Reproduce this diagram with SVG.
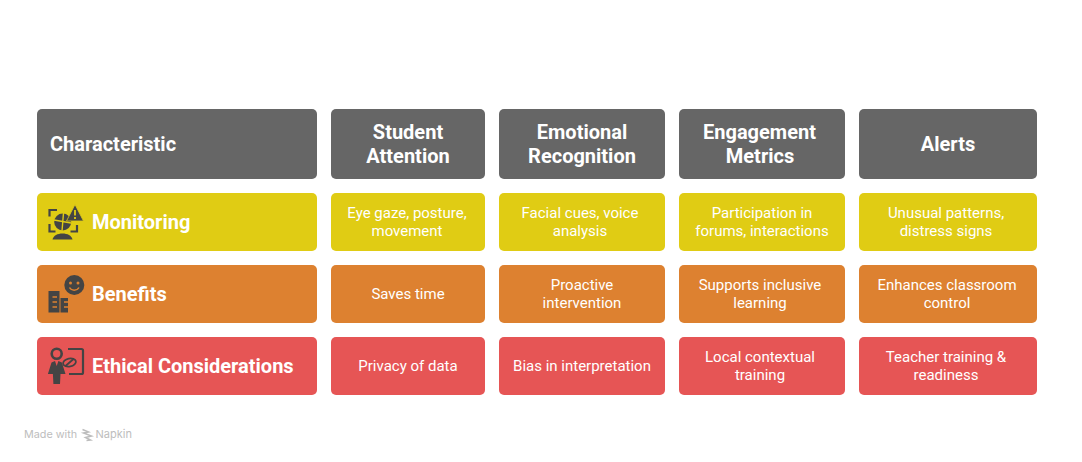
<svg xmlns="http://www.w3.org/2000/svg" width="1082" height="462" viewBox="0 0 1082 462">
<style>
text{font-family:Roboto,"Liberation Sans",sans-serif;fill:#fff;text-anchor:middle}
.h{font-size:20px;font-weight:700}
.l{text-anchor:start}
.c{font-size:15px;font-weight:400}
.g{fill:#666666}.y{fill:#e0cc14}.o{fill:#dd8130}.r{fill:#e65555}
.i{fill:#444444}.s{fill:none;stroke:#444444;stroke-width:2.200}
</style>
<rect width="1082" height="462" fill="#fff"/>
<g id="connectors"/>
<g id="head-characteristic"><rect class="g" x="37" y="109" width="280" height="70" rx="5"/><text class="h l" x="50" y="151">Characteristic</text></g>
<g id="head-attention"><rect class="g" x="331" y="109" width="154" height="70" rx="5"/><text class="h" x="408" y="139">Student</text><text class="h" x="408" y="163">Attention</text></g>
<g id="head-emotion"><rect class="g" x="499" y="109" width="166" height="70" rx="5"/><text class="h" x="582" y="139">Emotional</text><text class="h" x="582" y="163">Recognition</text></g>
<g id="head-engagement"><rect class="g" x="679" y="109" width="166" height="70" rx="5"/><text class="h" x="759.500" y="139">Engagement</text><text class="h" x="760" y="163">Metrics</text></g>
<g id="head-alerts"><rect class="g" x="859" y="109" width="178" height="70" rx="5"/><text class="h" x="948" y="151">Alerts</text></g>

<g id="row-monitoring"><rect class="y" x="37" y="193" width="280" height="58" rx="5"/>
<g id="icon-monitoring">
<path class="s" d="M57 210h-7.500v6.500M49.500 224v7.500h6M77 225v6.500h-6.500"/>
<circle class="i" cx="62.700" cy="222" r="8.500"/>
<path d="M63.500 213l-1.500 18M54 220l17 3" stroke="#e0cc14" stroke-width="1.400"/>
<path class="i" d="M75 204.500l8.500 16.500h-17z" stroke="#e0cc14" stroke-width="0.800"/>
<path d="M75 210v5.500M75 217v2" stroke="#e0cc14" stroke-width="1.800"/>
<path class="i" d="M52.500 239.500c1-4 5-6 10-6s9 2 10 6z"/>
</g>
<text class="h l" x="92" y="229">Monitoring</text></g>
<g id="row-monitoring-attention"><rect class="y" x="331" y="193" width="154" height="58" rx="5"/><text class="c" x="407" y="218">Eye gaze, posture,</text><text class="c" x="407" y="236">movement</text></g>
<g id="row-monitoring-emotion"><rect class="y" x="499" y="193" width="166" height="58" rx="5"/><text class="c" x="580" y="218">Facial cues, voice</text><text class="c" x="580" y="236">analysis</text></g>
<g id="row-monitoring-engagement"><rect class="y" x="679" y="193" width="166" height="58" rx="5"/><text class="c" x="762" y="218">Participation in</text><text class="c" x="762" y="236">forums, interactions</text></g>
<g id="row-monitoring-alerts"><rect class="y" x="859" y="193" width="178" height="58" rx="5"/><text class="c" x="946" y="218">Unusual patterns,</text><text class="c" x="946" y="236">distress signs</text></g>

<g id="row-benefits"><rect class="o" x="37" y="265" width="280" height="58" rx="5"/>
<g id="icon-benefits">
<circle class="i" cx="74.300" cy="285" r="10"/>
<circle cx="70.500" cy="283" r="1.500" fill="#dd8130"/><circle cx="78" cy="283" r="1.500" fill="#dd8130"/>
<path d="M69.500 287.500c2 3.500 7.500 3.500 9.500 0" fill="none" stroke="#dd8130" stroke-width="1.500"/>
<path class="i" d="M48.500 291h11v21.500h-11zM60.500 298h7.500v14.500h-7.500z"/>
<path d="M52.500 297h4.500M52.500 302h4.500M52.500 307h4.500M64 302h4M64 307h4" stroke="#dd8130" stroke-width="1.600"/>
</g>
<text class="h l" x="92" y="301">Benefits</text></g>
<g id="row-benefits-attention"><rect class="o" x="331" y="265" width="154" height="58" rx="5"/><text class="c" x="408" y="299">Saves time</text></g>
<g id="row-benefits-emotion"><rect class="o" x="499" y="265" width="166" height="58" rx="5"/><text class="c" x="582" y="290">Proactive</text><text class="c" x="582" y="308">intervention</text></g>
<g id="row-benefits-engagement"><rect class="o" x="679" y="265" width="166" height="58" rx="5"/><text class="c" x="760" y="290">Supports inclusive</text><text class="c" x="760" y="308">learning</text></g>
<g id="row-benefits-alerts"><rect class="o" x="859" y="265" width="178" height="58" rx="5"/><text class="c" x="947" y="290">Enhances classroom</text><text class="c" x="947" y="308">control</text></g>

<g id="row-ethical"><rect class="r" x="37" y="337" width="280" height="58" rx="5"/>
<g id="icon-ethical">
<path class="s" d="M68 349h13.500a1.500 1.500 0 0 1 1.500 1.500v22a1.500 1.500 0 0 1-1.500 1.500h-12.500"/>
<circle cx="56.700" cy="353.700" r="5" fill="none" stroke="#444444" stroke-width="2.600"/>
<path class="i" d="M55 361l1.700 5 1.700-5 3.500 1.500 3.600 11.500h-5l-.500 10h-6.600l-.500-10h-5l3.600-11.500z"/>
<ellipse cx="69.500" cy="362.500" rx="6.500" ry="4" transform="rotate(-12 69.500 362.500)" fill="none" stroke="#444444" stroke-width="1.800"/>
<path d="M65.500 366l8-7" stroke="#444444" stroke-width="1.800"/>
</g>
<text class="h l" x="92" y="373">Ethical Considerations</text></g>
<g id="row-ethical-attention"><rect class="r" x="331" y="337" width="154" height="58" rx="5"/><text class="c" x="408" y="371">Privacy of data</text></g>
<g id="row-ethical-emotion"><rect class="r" x="499" y="337" width="166" height="58" rx="5"/><text class="c" x="582" y="371">Bias in interpretation</text></g>
<g id="row-ethical-engagement"><rect class="r" x="679" y="337" width="166" height="58" rx="5"/><text class="c" x="760" y="362">Local contextual</text><text class="c" x="760" y="380">training</text></g>
<g id="row-ethical-alerts"><rect class="r" x="859" y="337" width="178" height="58" rx="5"/><text class="c" x="946" y="362">Teacher training &amp;</text><text class="c" x="946" y="380">readiness</text></g>

<g id="watermark">
<text x="24" y="438" font-size="10.800" style="fill:#bdbdbd;text-anchor:start;font-family:Inter,Roboto,sans-serif">Made with</text>
<path d="M82.500 429.500l6 2.500-5 1 8 3-6 1.500 5 2.500-4 .500" fill="none" stroke="#bdbdbd" stroke-width="1.500"/>
<text x="95.500" y="438" font-size="11" style="fill:#bdbdbd;text-anchor:start;font-family:Inter,Roboto,sans-serif">Napkin</text>
</g>
</svg>
